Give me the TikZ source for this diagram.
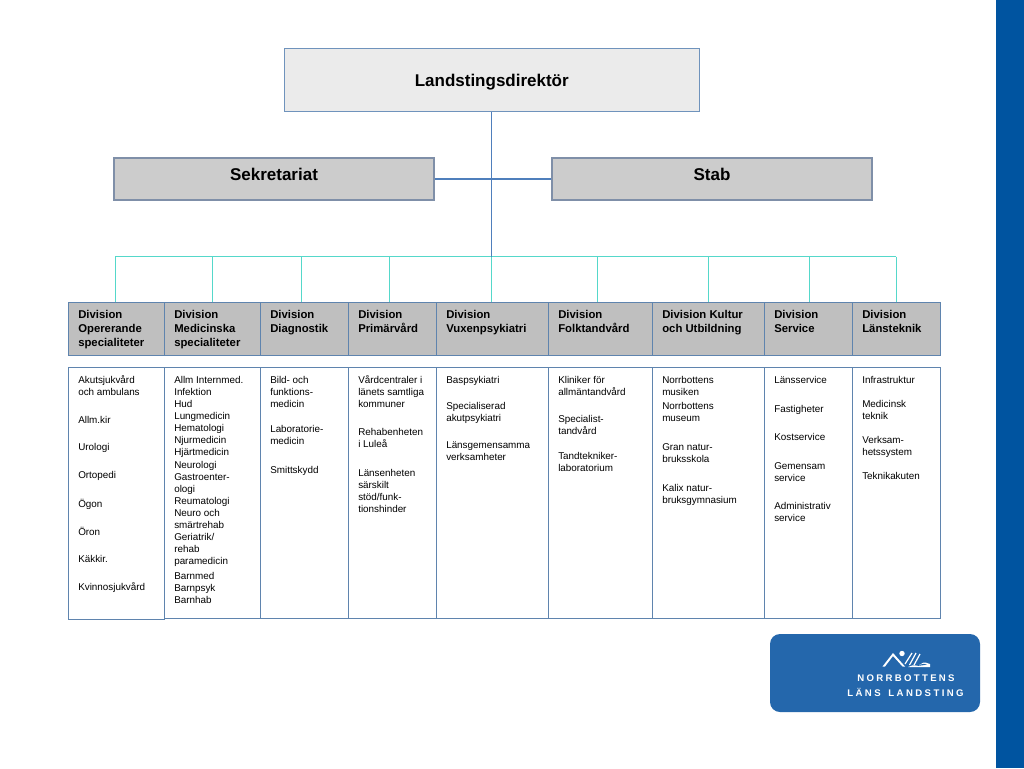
\documentclass[tikz,border=0pt]{standalone}
\usepackage{fontspec}
\setmainfont{Liberation Sans}
\definecolor{boxline}{HTML}{5F84AE}
\definecolor{topline}{HTML}{6F93BC}
\definecolor{sideline}{HTML}{7F8FA8}
\definecolor{trunk}{HTML}{4F7FBC}
\definecolor{teal}{HTML}{55D8CA}
\definecolor{strip}{HTML}{0054A0}
\definecolor{logoblue}{HTML}{2467AC}
\tikzset{
  x=0.75pt,y=-0.75pt,
  topbox/.style={draw=topline,line width=0.8pt,fill=black!8,minimum width=311.5pt,minimum height=47.5pt,inner sep=0pt,text height=9.8pt,text depth=0pt,font=\fontsize{12.75}{15}\selectfont\bfseries},
  sidebox/.style={draw=sideline,line width=1.5pt,fill=black!20,minimum width=239.5pt,minimum height=31pt,inner sep=0pt,text height=2.2pt,text depth=0pt,font=\fontsize{12.75}{15}\selectfont\bfseries},
  headbox/.style={draw=boxline,line width=0.9pt,fill=black!25,inner sep=0pt},
  bodybox/.style={draw=boxline,line width=0.9pt,fill=white,inner sep=0pt},
  headtext/.style={anchor=north west,inner sep=0pt,align=left,yshift=7.35pt,font=\fontsize{8.5}{10.5}\selectfont\bfseries},
  bodytext/.style={anchor=north west,inner sep=0pt,align=left,yshift=6.3pt,font=\fontsize{7.4}{9}\selectfont},
  trunkline/.style={draw=trunk,line width=0.8pt},
  tealline/.style={draw=teal,line width=0.8pt},
  logotext/.style={text=white,inner sep=0pt,anchor=base}
}
\newcommand{\HB}[5]{\node[headbox,minimum width=#3*0.75pt,minimum height=39.75pt,anchor=north west] (#1) at (#2,302) {};
  \node[headtext] (#1t) at (#2+10,318.3) {\strut #4};
  \node[bodybox,minimum width=#3*0.75pt,minimum height=#5*0.75pt,anchor=north west] (#1b) at (#2,367) {};}
\newcommand{\BT}[4]{\node[bodytext] (#1) at (#2,#3) {\strut #4};}
\begin{document}
\begin{tikzpicture}
\useasboundingbox (0,0) rectangle (1024,768);
\fill[white] (0,0) rectangle (1024,768);
\fill[strip] (996,0) rectangle (1024,768);

% top level
\node[topbox] (top) at (491.75,80) {Landstingsdirektör};
\node[sidebox] (sek) at (274,179) {Sekretariat};
\node[sidebox] (stab) at (712,179) {Stab};

% columns
\HB{h1}{68}{96}{Division\\Opererande\\specialiteter}{251.5}
\HB{h2}{164}{96}{Division\\Medicinska\\specialiteter}{250.5}
\HB{h3}{260}{88}{Division\\Diagnostik}{250.5}
\HB{h4}{348}{88}{Division\\Primärvård}{250.5}
\HB{h5}{436}{112}{Division\\Vuxenpsykiatri}{250.5}
\HB{h6}{548}{104}{Division\\Folktandvård}{250.5}
\HB{h7}{652}{112}{Division Kultur\\och Utbildning}{250.5}
\HB{h8}{764}{88}{Division\\Service}{250.5}
\HB{h9}{852}{87.5}{Division\\Länsteknik}{250.5}

% connectors
\coordinate (bus1) at (115.2,256.5);
\coordinate (bus2) at (212.2,256.5);
\coordinate (bus3) at (301.2,256.5);
\coordinate (bus4) at (389.2,256.5);
\coordinate (bus5) at (491.2,256.5);
\coordinate (bus6) at (597.2,256.5);
\coordinate (bus7) at (708.2,256.5);
\coordinate (bus8) at (809.2,256.5);
\coordinate (bus9) at (896.2,256.5);
\draw[tealline] (bus1) -- (bus9);
\foreach \i in {1,...,9} {\draw[tealline] (bus\i) -- (bus\i |- h\i.north);}
\draw[trunkline] (top.south -| bus5) -- (bus5);
\draw[trunkline] (sek.east) -- (stab.west);

% column 1
\BT{a1}{78}{383}{Akutsjukvård\\och ambulans}
\BT{a2}{78}{423.3}{Allm.kir}
\BT{a3}{78}{450}{Urologi}
\BT{a4}{78}{478.7}{Ortopedi}
\BT{a5}{78}{507}{Ögon}
\BT{a6}{78}{535.7}{Öron}
\BT{a7}{78}{562}{Käkkir.}
\BT{a8}{78}{590.5}{Kvinnosjukvård}
% column 2
\BT{b1}{174}{383}{Allm Internmed.\\Infektion\\Hud\\Lungmedicin\\Hematologi\\Njurmedicin\\Hjärtmedicin}
\BT{b2}{174}{468.5}{Neurologi\\Gastroenter-\\ologi\\Reumatologi\\Neuro och\\smärtrehab\\Geriatrik/\\rehab\\paramedicin}
\BT{b3}{174}{579}{Barnmed\\Barnpsyk\\Barnhab}
% column 3
\BT{c1}{270}{383}{Bild- och\\funktions-\\medicin}
\BT{c2}{270}{432.7}{Laboratorie-\\medicin}
\BT{c3}{270}{473}{Smittskydd}
% column 4
\BT{d1}{358}{383}{Vårdcentraler i\\länets samtliga\\kommuner}
\BT{d2}{358}{435}{Rehabenheten\\i Luleå}
\BT{d3}{358}{476}{Länsenheten\\särskilt\\stöd/funk-\\tionshinder}
% column 5
\BT{e1}{446}{383}{Baspsykiatri}
\BT{e2}{446}{409}{Specialiserad\\akutpsykiatri}
\BT{e3}{446}{448}{Länsgemensamma\\verksamheter}
% column 6
\BT{f1}{558}{383}{Kliniker för\\allmäntandvård}
\BT{f2}{558}{422}{Specialist-\\tandvård}
\BT{f3}{558}{459}{Tandtekniker-\\laboratorium}
% column 7
\BT{g1}{662}{383}{Norrbottens\\musiken}
\BT{g2}{662}{409}{Norrbottens\\museum}
\BT{g3}{662}{450}{Gran natur-\\bruksskola}
\BT{g4}{662}{491}{Kalix natur-\\bruksgymnasium}
% column 8
\BT{i1}{774}{383}{Länsservice}
\BT{i2}{774}{412}{Fastigheter}
\BT{i3}{774}{440}{Kostservice}
\BT{i4}{774}{469}{Gemensam\\service}
\BT{i5}{774}{509}{Administrativ\\service}
% column 9
\BT{j1}{862}{383}{Infrastruktur}
\BT{j2}{862}{407}{Medicinsk\\teknik}
\BT{j3}{862}{443}{Verksam-\\hetssystem}
\BT{j4}{862}{479}{Teknikakuten}

% logo
\fill[logoblue,rounded corners=7.5pt] (770,634) rectangle (980,712);
\fill[white] (902,653.5) circle (2.7);
\fill[white] (882.5,666.5) -- (893,653) -- (905,666.5) -- (902.5,666.5) -- (893,656) -- (885,666.5) -- cycle;
\draw[white,line width=0.9pt] (905,664) -- (912,653) (909.5,665) -- (916,653) (914,665) -- (920,654);
\fill[white] (908,667) .. controls (914,663.5) and (918,667) .. (921,664) .. controls (924,661) and (927,663) .. (930,664) -- (930,667) -- cycle;
\fill[logoblue] (915,665.6) .. controls (919,665.8) and (923,662.5) .. (927,664.6) .. controls (923,664.5) and (920,666.5) .. (915,665.6) -- cycle;
\node[logotext] (lg1) at (906,681.7) {\fontsize{7.2}{8}\selectfont\addfontfeatures{LetterSpace=24}\bfseries NORRBOTTENS};
\node[logotext] (lg2) at (905.5,696) {\fontsize{7.2}{8}\selectfont\addfontfeatures{LetterSpace=25}\bfseries LÄNS\hspace{2pt} LANDSTING};
\end{tikzpicture}
\end{document}
